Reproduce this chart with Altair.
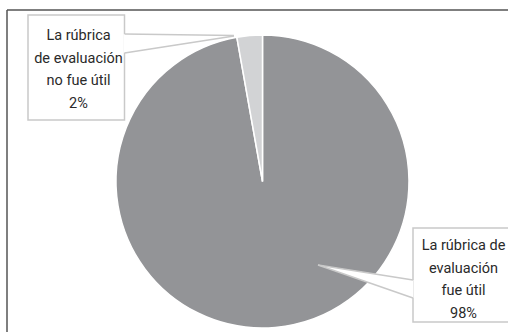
import altair as alt
import pandas as pd

# ---- data ----
categories = ["La rúbrica de evaluación fue útil", "La rúbrica de evaluación no fue útil"]
shares = [97.2, 2.8]
order_idx = [0, 1]
label_texts = ["La rúbrica de\nevaluación\nfue útil\n98%", "La rúbrica\nde evaluación\nno fue útil\n2%"]

# ---- layout constants (pixels) ----
W, H = 508, 332
CX, CY, R = 262.5, 181.5, 146.5
DARK, LIGHT = "#939497", "#d2d3d5"
BOX_STROKE = "#c9c9c9"
FONT = "Roboto, sans-serif"

pie_df = pd.DataFrame({"cat": categories, "share": shares, "idx": order_idx})

pie = alt.Chart(pie_df).mark_arc(
    outerRadius=R, stroke="white", strokeWidth=1.5
).encode(
    theta=alt.Theta("share:Q", stack=True),
    color=alt.Color("cat:N", scale=alt.Scale(domain=categories, range=[DARK, LIGHT]), legend=None),
    order=alt.Order("idx:Q"),
    x=alt.value(CX),
    y=alt.value(CY),
)

# frame (top and left edges)
frame_df = pd.DataFrame({
    "x": [7, 7], "y": [10, 10], "x2": [W + 2, 7], "y2": [10, H + 2]
})
frame = alt.Chart(frame_df).mark_rule(color="#555555", strokeWidth=1.5).encode(
    x=alt.X("x:Q", scale=None), y=alt.Y("y:Q", scale=None),
    x2="x2:Q", y2="y2:Q",
)

# callout boxes
box_df = pd.DataFrame({
    "x": [413, 28], "x2": [W + 5, 124.5], "y": [228, 15], "y2": [322, 120]
})
boxes = alt.Chart(box_df).mark_rect(fill="white", stroke=BOX_STROKE, strokeWidth=1.5).encode(
    x=alt.X("x:Q", scale=None), x2="x2:Q",
    y=alt.Y("y:Q", scale=None), y2="y2:Q",
)

# wedge fills
wedge_df = pd.DataFrame({
    "g": ["a", "a", "b", "b"],
    "x": [318, 413.5, 123.5, 234],
    "y": [265, 280, 34, 35.5],
    "y2": [265, 298, 53, 36],
})
wedges = alt.Chart(wedge_df).mark_area(color="white", opacity=1).encode(
    x=alt.X("x:Q", scale=None),
    y=alt.Y("y:Q", scale=None), y2="y2:Q",
    detail="g:N",
)

# wedge outlines
wline_df = pd.DataFrame({
    "x": [318, 318, 124.5, 124.5],
    "y": [265, 265, 34, 53],
    "x2": [413, 413, 234, 234],
    "y2": [280, 298, 35.5, 36],
})
wlines = alt.Chart(wline_df).mark_rule(color=BOX_STROKE, strokeWidth=1.5).encode(
    x=alt.X("x:Q", scale=None), y=alt.Y("y:Q", scale=None),
    x2="x2:Q", y2="y2:Q",
)

# labels
lab_df = pd.DataFrame({"t": label_texts, "x": [463.5, 78.5], "y": [250, 40]})
labels = alt.Chart(lab_df).mark_text(
    font=FONT, fontSize=14.5, color="#2a2a2a", align="center", baseline="alphabetic",
    lineBreak="\n", lineHeight=22.7,
).encode(
    x=alt.X("x:Q", scale=None), y=alt.Y("y:Q", scale=None), text="t:N"
)

chart = alt.layer(frame, pie, wedges, boxes, wedges, wlines, labels).properties(
    width=W, height=H, padding=0, autosize=alt.AutoSizeParams(type="none"),
    background="white",
).configure_view(stroke=None)

chart.save("out.html", embed_options={"renderer": "svg", "actions": False})
